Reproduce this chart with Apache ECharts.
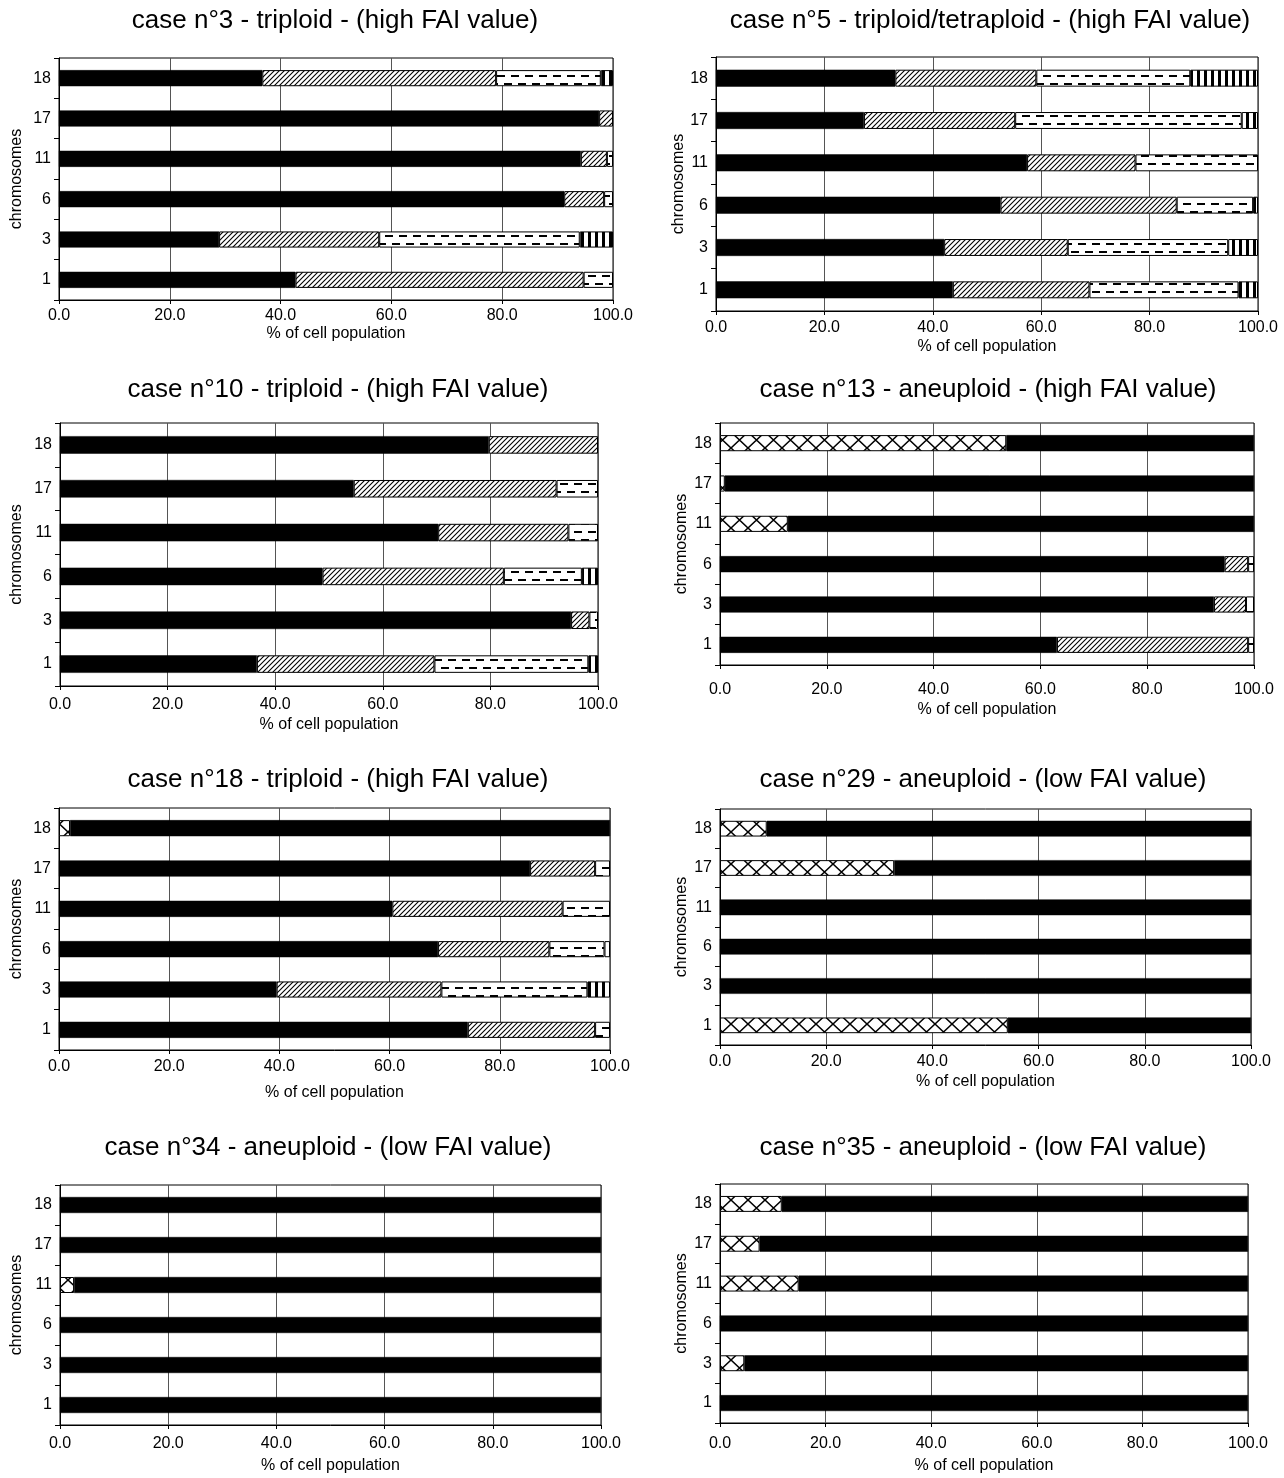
<!DOCTYPE html>
<html><head><meta charset="utf-8">
<script src="https://cdn.jsdelivr.net/npm/echarts@6/dist/echarts.min.js"></script>
<style>html,body{margin:0;padding:0;background:#fff}#c{width:1284px;height:1478px}</style>
</head><body><div id="c"></div>
<script>
// ---- data (rows ordered bottom→top: chromosomes 1,3,6,11,17,18) ----
const chromosomes = ['1', '3', '6', '11', '17', '18'];
const xTickValues = [0, 20, 40, 60, 80, 100];

const titles = [
  'case n°3 - triploid - (high FAI value)',
  'case n°5 - triploid/tetraploid - (high FAI value)',
  'case n°10 - triploid - (high FAI value)',
  'case n°13 - aneuploid - (high FAI value)',
  'case n°18 - triploid - (high FAI value)',
  'case n°29 - aneuploid - (low FAI value)',
  'case n°34 - aneuploid - (low FAI value)',
  'case n°35 - aneuploid - (low FAI value)'
];

// case 3
const c3Cross = [0, 0, 0, 0, 0, 0];
const c3Black = [42.7, 28.9, 91.2, 94.2, 97.5, 36.7];
const c3Diag  = [52.0, 28.9, 7.2, 4.7, 2.5, 42.2];
const c3Dash  = [5.3, 36.2, 1.6, 1.1, 0, 18.9];
const c3Vert  = [0, 6.0, 0, 0, 0, 2.2];
// case 5
const c5Cross = [0, 0, 0, 0, 0, 0];
const c5Black = [43.7, 42.1, 52.5, 57.4, 27.3, 33.1];
const c5Diag  = [25.2, 22.8, 32.5, 20.0, 27.9, 26.0];
const c5Dash  = [27.5, 29.6, 14.1, 22.6, 41.8, 28.4];
const c5Vert  = [3.6, 5.5, 0.9, 0, 3.0, 12.5];
// case 10
const c10Cross = [0, 0, 0, 0, 0, 0];
const c10Black = [36.6, 95.0, 48.8, 70.3, 54.6, 79.7];
const c10Diag  = [33.0, 3.4, 33.7, 24.2, 37.7, 20.3];
const c10Dash  = [28.6, 1.6, 14.5, 5.5, 7.7, 0];
const c10Vert  = [1.8, 0, 3.0, 0, 0, 0];
// case 13
const c13Cross = [0, 0, 0, 12.7, 0.9, 53.6];
const c13Black = [63.1, 92.5, 94.5, 87.3, 99.1, 46.4];
const c13Diag  = [35.8, 6.0, 4.4, 0, 0, 0];
const c13Dash  = [1.1, 1.5, 1.1, 0, 0, 0];
const c13Vert  = [0, 0, 0, 0, 0, 0];
// case 18
const c18Cross = [0, 0, 0, 0, 0, 2.0];
const c18Black = [74.2, 39.5, 68.8, 60.5, 85.5, 98.0];
const c18Diag  = [23.1, 29.9, 20.2, 30.9, 11.8, 0];
const c18Dash  = [2.7, 26.5, 10.0, 8.6, 2.7, 0];
const c18Vert  = [0, 4.1, 1.0, 0, 0, 0];
// case 29
const c29Cross = [54.2, 0, 0, 0, 32.8, 8.8];
const c29Black = [45.8, 100, 100, 100, 67.2, 91.2];
// case 34
const c34Cross = [0, 0, 0, 2.6, 0, 0];
const c34Black = [100, 100, 100, 97.4, 100, 100];
// case 35
const c35Cross = [0, 4.6, 0, 14.9, 7.5, 11.7];
const c35Black = [100, 95.4, 100, 85.1, 92.5, 88.3];

const empty = [0, 0, 0, 0, 0, 0];
const panelData = [
  [c3Cross, c3Black, c3Diag, c3Dash, c3Vert],
  [c5Cross, c5Black, c5Diag, c5Dash, c5Vert],
  [c10Cross, c10Black, c10Diag, c10Dash, c10Vert],
  [c13Cross, c13Black, c13Diag, c13Dash, c13Vert],
  [c18Cross, c18Black, c18Diag, c18Dash, c18Vert],
  [c29Cross, c29Black, empty, empty, empty],
  [c34Cross, c34Black, empty, empty, empty],
  [c35Cross, c35Black, empty, empty, empty]
];

// ---- layout ----
const layout = [
  {l: 59,  r: 613,  t: 58,   b: 300,  tx: 335, ty: 21,   ly: 316,  ny: 334,  yn: 17},
  {l: 716, r: 1258, t: 57,   b: 311,  tx: 990, ty: 21,   ly: 328,  ny: 347,  yn: 682},
  {l: 60,  r: 598,  t: 423,  b: 686,  tx: 338, ty: 390,  ly: 705,  ny: 725,  yn: 17},
  {l: 720, r: 1254, t: 423,  b: 665,  tx: 988, ty: 390,  ly: 690,  ny: 710,  yn: 682},
  {l: 59,  r: 610,  t: 808,  b: 1050, tx: 338, ty: 780,  ly: 1067, ny: 1093, yn: 17},
  {l: 720, r: 1251, t: 809,  b: 1045, tx: 983, ty: 780,  ly: 1062, ny: 1082, yn: 682},
  {l: 60,  r: 601,  t: 1185, b: 1425, tx: 328, ty: 1148, ly: 1444, ny: 1466, yn: 17},
  {l: 720, r: 1248, t: 1184, b: 1423, tx: 983, ty: 1148, ly: 1444, ny: 1466, yn: 682}
];

// ---- patterns ----
function makeCanvas(w, h, draw) {
  const c = document.createElement('canvas');
  c.width = w; c.height = h;
  const g = c.getContext('2d');
  g.fillStyle = '#fff'; g.fillRect(0, 0, w, h);
  g.strokeStyle = '#000'; g.fillStyle = '#000';
  draw(g);
  return c;
}
const diagPat = makeCanvas(5, 5, g => {
  g.lineWidth = 1.1;
  g.beginPath();
  g.moveTo(-1, 6); g.lineTo(6, -1);
  g.moveTo(-6, 6); g.lineTo(1, -1);
  g.moveTo(4, 6); g.lineTo(11, -1);
  g.stroke();
});
const dashPat = makeCanvas(14, 16, g => {
  g.fillRect(0, 3, 8, 2);
  g.fillRect(7, 11, 7, 2);
  g.fillRect(0, 11, 1, 2);
});
const vertPat = makeCanvas(7, 2, g => { g.fillRect(0, 0, 3, 2); });
const crossPat = makeCanvas(17, 16, g => {
  g.lineWidth = 1.5;
  g.beginPath();
  g.moveTo(0, 0); g.lineTo(17, 16);
  g.moveTo(17, 0); g.lineTo(0, 16);
  g.stroke();
});
const fills = [
  {image: crossPat, repeat: 'repeat'},
  '#000',
  {image: diagPat, repeat: 'repeat'},
  {image: dashPat, repeat: 'repeat'},
  {image: vertPat, repeat: 'repeat'}
];
const names = ['cross', 'solid', 'diagonal', 'dashed', 'vertical'];

const font = "'Liberation Sans', Arial, Helvetica, sans-serif";
const grid = [], xAxis = [], yAxis = [], series = [], graphic = [];

layout.forEach((p, i) => {
  grid.push({left: p.l, top: p.t, width: p.r - p.l, height: p.b - p.t,
    show: true, borderColor: '#000', borderWidth: 1, backgroundColor: 'transparent'});
  xAxis.push({
    type: 'value', gridIndex: i, min: xTickValues[0], max: xTickValues[xTickValues.length - 1],
    interval: xTickValues[1] - xTickValues[0],
    axisLine: {show: true, lineStyle: {color: '#000', width: 1}},
    axisTick: {show: true, length: 4, lineStyle: {color: '#000'}},
    axisLabel: {color: '#000', fontSize: 16, fontFamily: font, margin: p.ly - p.b - 8,
      formatter: v => v.toFixed(1)},
    splitLine: {show: true, lineStyle: {color: '#555', width: 1}},
    name: '% of cell population', nameLocation: 'middle', nameGap: p.ny - p.b,
    nameTextStyle: {color: '#000', fontSize: 16, fontFamily: font, verticalAlign: 'middle'}
  });
  yAxis.push({
    type: 'category', gridIndex: i, data: chromosomes,
    axisLine: {show: true, lineStyle: {color: '#000', width: 1}},
    axisTick: {show: true, length: 5, lineStyle: {color: '#000'}},
    axisLabel: {color: '#000', fontSize: 16, fontFamily: font, margin: 8},
    splitLine: {show: false},
    name: 'chromosomes', nameLocation: 'middle', nameGap: p.l - p.yn,
    nameTextStyle: {color: '#000', fontSize: 16, fontFamily: font, verticalAlign: 'middle'}
  });
  panelData[i].forEach((arr, k) => {
    if (arr.every(v => !v)) return;
    series.push({
      type: 'bar', name: names[k], xAxisIndex: i, yAxisIndex: i, stack: 'p' + i,
      barWidth: '40%', silent: true,
      itemStyle: {color: fills[k], borderColor: '#000', borderWidth: k === 1 ? 0.5 : 1},
      data: arr.map(v => (v ? v : '-'))
    });
  });
  graphic.push({type: 'text', x: p.tx, y: p.ty, silent: true,
    style: {text: titles[i], font: '26px ' + font, fill: '#000',
      textAlign: 'center', textVerticalAlign: 'middle'}});
});

const chart = echarts.init(document.getElementById('c'), null, {renderer: 'canvas'});
chart.setOption({animation: false, backgroundColor: '#fff', grid, xAxis, yAxis, series, graphic});
</script></body></html>
